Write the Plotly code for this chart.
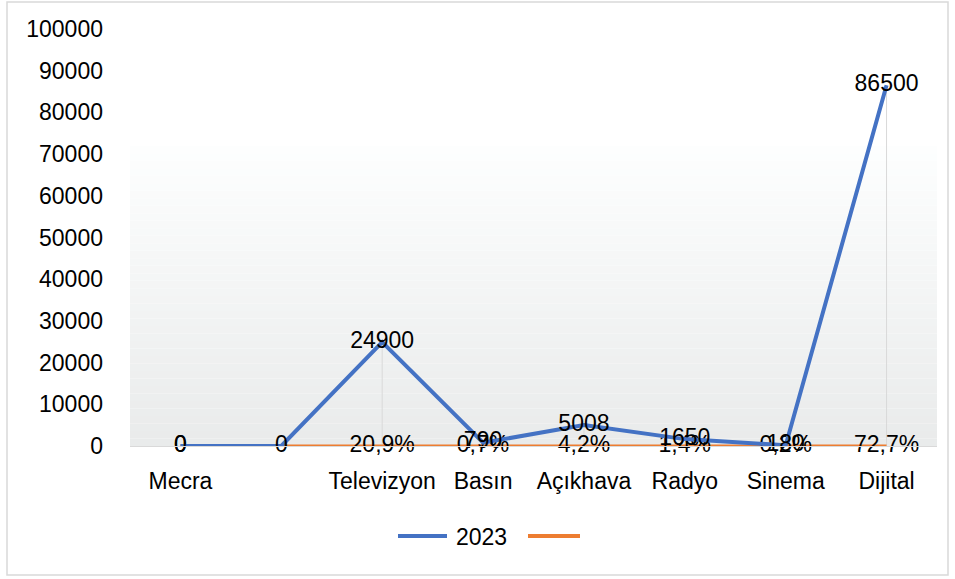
import plotly.graph_objects as go

categories = ["Mecra", "", "Televizyon", "Basın", "Açıkhava", "Radyo", "Sinema", "Dijital"]
values_2023 = [0, 0, 24900, 790, 5008, 1650, 180, 86500]
share_values = [0, 0, 0.209, 0.007, 0.042, 0.014, 0.002, 0.727]
share_labels = ["0", "", "20,9%", "0,7%", "4,2%", "1,4%", "0,2%", "72,7%"]
y_ticks = list(range(0, 100001, 10000))
series_name = "2023"

FONT = "Liberation Sans"
FS = 23
BLUE = "#4472C4"
ORANGE = "#ED7D31"
x_idx = list(range(len(categories)))

L, R, T, B = 130, 18, 29, 133
PW, PH = 955 - L - R, 579 - T - B


def px_x(p):
    return (p - L) / PW


def px_y(p):
    return (579 - B - p) / PH


fig = go.Figure()

# drop lines
dx, dy = [], []
for i, v in zip(x_idx, values_2023):
    dx += [i, i, None]
    dy += [0, v, None]
fig.add_trace(go.Scatter(x=dx, y=dy, mode="lines", line=dict(color="#d9d9d9", width=1),
                         showlegend=False, hoverinfo="skip"))

fig.add_trace(go.Scatter(x=x_idx, y=share_values, mode="lines+text", name=" ",
                         text=share_labels, textposition="middle center", cliponaxis=False,
                         textfont=dict(family=FONT, size=FS, color="black"),
                         line=dict(color=ORANGE, width=3), showlegend=False))
fig.add_trace(go.Scatter(x=x_idx, y=values_2023, mode="lines+text", name=series_name,
                         text=[str(v) for v in values_2023], textposition="middle center",
                         cliponaxis=False,
                         textfont=dict(family=FONT, size=FS, color="black"),
                         line=dict(color=BLUE, width=4), showlegend=False))

# gradient background bands
n = 40
top = 72000
c0 = (233, 235, 235)
c1 = (253, 254, 254)
shapes = []
for k in range(n):
    t = k / (n - 1)
    col = tuple(round(c0[j] + (c1[j] - c0[j]) * t) for j in range(3))
    shapes.append(dict(type="rect", xref="paper", yref="y", x0=0, x1=1,
                       y0=top * k / n, y1=top * (k + 1) / n,
                       fillcolor="rgb(%d,%d,%d)" % col, line=dict(width=0), layer="below"))
# chart border
shapes.append(dict(type="rect", xref="paper", yref="paper",
                   x0=px_x(7), x1=px_x(948), y0=px_y(575), y1=px_y(2),
                   line=dict(color="#d9d9d9", width=1.5), layer="below"))
# legend (manual)
shapes.append(dict(type="line", xref="paper", yref="paper", x0=px_x(398), x1=px_x(447),
                   y0=px_y(536), y1=px_y(536), line=dict(color=BLUE, width=4)))
shapes.append(dict(type="line", xref="paper", yref="paper", x0=px_x(528), x1=px_x(580),
                   y0=px_y(536), y1=px_y(536), line=dict(color=ORANGE, width=4)))

fig.update_layout(
    width=955, height=579,
    margin=dict(l=L, r=R, t=T, b=B),
    paper_bgcolor="white", plot_bgcolor="white",
    font=dict(family=FONT, size=FS, color="black"),
    shapes=shapes,
    showlegend=False,
    annotations=[dict(xref="paper", yref="paper", x=px_x(454), y=px_y(537),
                      xanchor="left", yanchor="middle", text=series_name, showarrow=False,
                      font=dict(family=FONT, size=FS, color="black"))],
)
fig.update_xaxes(range=[-0.5, 7.5], tickmode="array", tickvals=x_idx, ticktext=categories,
                 showgrid=False, zeroline=False, showline=True, linecolor="#d9d9d9", linewidth=1,
                 ticks="outside", ticklen=14, tickcolor="rgba(0,0,0,0)",
                 tickfont=dict(family=FONT, size=FS))
fig.update_yaxes(range=[0, 100000], tickmode="array", tickvals=y_ticks,
                 ticktext=[str(v) for v in y_ticks], showgrid=False, zeroline=False,
                 showline=False, ticklabelstandoff=26,
                 tickfont=dict(family=FONT, size=FS))

fig.write_html("out.html", config={"displayModeBar": False},
               post_script="document.body.style.margin='0';")
